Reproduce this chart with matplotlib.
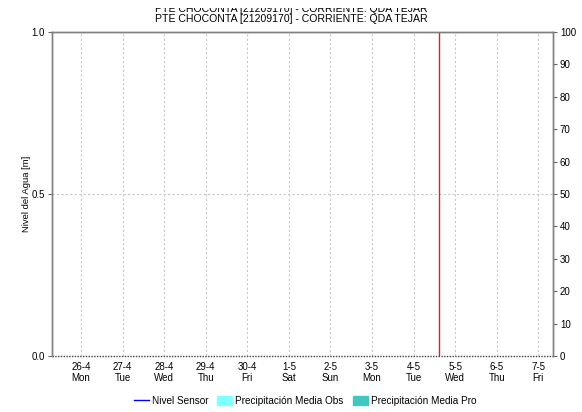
import numpy as np
import pandas as pd
import matplotlib
matplotlib.use("Agg")
import matplotlib.pyplot as plt
from matplotlib.lines import Line2D
from matplotlib.patches import Patch
from matplotlib.transforms import Bbox, TransformedBbox

plt.rcParams['font.family'] = ['Liberation Sans', 'DejaVu Sans']

titulo = "PTE CHOCONTA [21209170] - CORRIENTE: QDA TEJAR"
fecha_inicio = pd.Timestamp("2021-04-25 07:15")
fecha_fin = pd.Timestamp("2021-05-07 08:30")
fecha_actual = pd.Timestamp("2021-05-04 14:30")
dias = pd.date_range("2021-04-26", "2021-05-07", freq="D")
dias_semana = ["Mon", "Tue", "Wed", "Thu", "Fri", "Sat", "Sun", "Mon", "Tue", "Wed", "Thu", "Fri"]

# pas de donnees dans la periode
nivel_fechas = []
nivel_valores = []
precip_obs = []
precip_pro = []

fig = plt.figure(figsize=(5.82, 4.12), dpi=100)
ax = fig.add_axes([52 / 582, 1 - 356 / 412, 501 / 582, 324 / 412])
ax2 = ax.twinx()

ax.plot(nivel_fechas, nivel_valores, color="#0000ff", lw=1)
ax.axvline(fecha_actual, color="#e02020", lw=1)

ax.set_xlim(fecha_inicio, fecha_fin)
ax.set_ylim(0, 1)
ax2.set_ylim(0, 100)

ax.set_xticks(dias)
ax.set_xticklabels([f"{d.day}-{d.month}\n{w}" for d, w in zip(dias, dias_semana)], fontsize=7)
ax.tick_params(axis="x", length=0, pad=4)
ax.set_yticks([0, 0.5, 1.0])
ax.set_yticklabels(["0.0", "0.5", "1.0"], fontsize=7)
ax.tick_params(axis="y", length=3, width=0.8, color="#666666", pad=2)
ax2.set_yticks(np.arange(0, 101, 10))
ax2.set_yticklabels([str(v) for v in range(0, 101, 10)], fontsize=7)
ax2.tick_params(axis="y", length=3, width=0.8, color="#666666", pad=2)

ax.grid(True, color="#c8c8c8", ls=(0, (2, 2)), lw=0.8)
ax.set_axisbelow(True)

for a in (ax, ax2):
    for s in ("left", "right", "top"):
        a.spines[s].set_color("#808080")
        a.spines[s].set_linewidth(1)
    a.spines["bottom"].set_visible(False)
ax.axhline(0, color="#404040", lw=1, ls=(0, (1, 1)), clip_on=False)

ax.set_ylabel("Nivel del Agua [m]", fontsize=6.8)
ax.yaxis.set_label_coords(-0.041, 0.5)
ax2.set_ylabel("Precipitación [mm]", fontsize=7)
ax2.yaxis.set_label_coords(1.068, 0.5)

# titre en double, celui du haut est coupe
t_haut = fig.text(0.5, 1 - 9 / 412, titulo, ha="center", va="center", fontsize=7.6)
t_haut.set_clip_box(TransformedBbox(Bbox([[0, 0], [1, 1 - 8 / 412]]), fig.transFigure))
t_haut.set_clip_on(True)
fig.text(0.5, 1 - 19.5 / 412, titulo, ha="center", va="center", fontsize=7.6)

handles = [Line2D([], [], color="#0000ff", lw=1),
           Patch(color="#80ffff"),
           Patch(color="#40c8c0")]
labels = ["Nivel Sensor", "Precipitación Media Obs", "Precipitación Media Pro"]
fig.legend(handles, labels, loc="center", bbox_to_anchor=(305 / 582, 1 - 401 / 412),
           ncol=3, frameon=False, fontsize=7.2, handlelength=1.5, handletextpad=0.3,
           columnspacing=0.9, handleheight=0.9)

plt.savefig("out.png", dpi=100)
